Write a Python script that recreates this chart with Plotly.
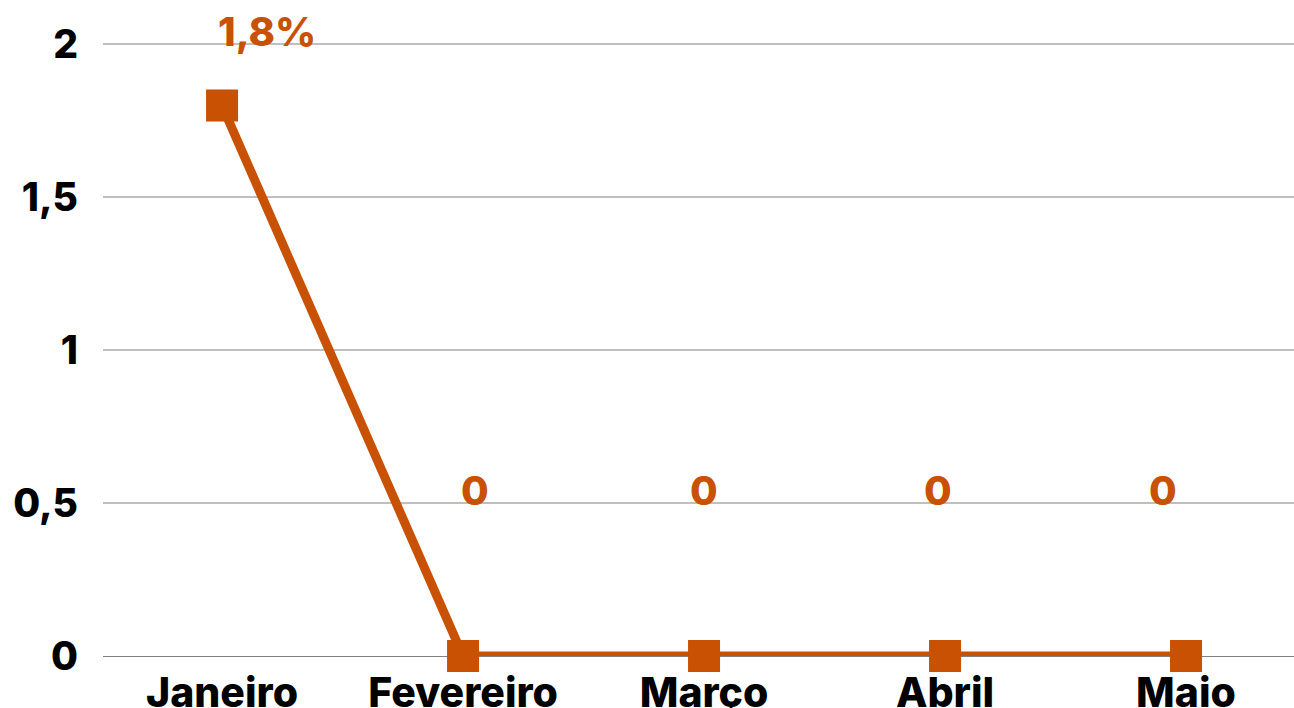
import plotly.graph_objects as go

months = ["Janeiro", "Fevereiro", "Março", "Abril", "Maio"]
values = [1.8, 0, 0, 0, 0]
point_labels = ["1,8%", "0", "0", "0", "0"]
y_ticks = [0, 0.5, 1, 1.5, 2]
y_tick_text = ["0", "0,5", "1", "1,5", "2"]

ORANGE = "#C85103"
FONT = "Inter"

# label offsets (px) as placed in the original
label_shifts = [(45, 74), (12, 166), (0, 166), (-7, 166), (-23, 166)]

fig = go.Figure()
fig.add_trace(
    go.Scatter(
        x=months,
        y=values,
        mode="lines+markers",
        line=dict(color=ORANGE, width=9),
        marker=dict(symbol="square", size=32, color=ORANGE),
        cliponaxis=False,
        showlegend=False,
    )
)

annotations = []
for m, v, txt, (dx, dy) in zip(months, values, point_labels, label_shifts):
    annotations.append(
        dict(
            x=m,
            y=v,
            text=txt,
            showarrow=False,
            xshift=dx,
            yshift=dy,
            font=dict(family=FONT, size=40, color=ORANGE, weight=800),
        )
    )

fig.update_layout(
    width=1294,
    height=708,
    margin=dict(l=103, r=0, t=42, b=52, autoexpand=False),
    paper_bgcolor="white",
    plot_bgcolor="white",
    font=dict(family=FONT, color="black"),
    annotations=annotations,
)
fig.update_xaxes(
    range=[-0.494, 4.448],
    automargin=False,
    showgrid=False,
    showline=False,
    ticks="",
    tickfont=dict(family=FONT, size=41, color="black", weight=800),
    ticklabelstandoff=9,
)
fig.update_yaxes(
    range=[0, 2.008],
    automargin=False,
    tickvals=y_ticks,
    ticktext=y_tick_text,
    showgrid=True,
    gridcolor="#BFBFBF",
    gridwidth=1.5,
    zeroline=True,
    zerolinecolor="#808080",
    zerolinewidth=1,
    showline=False,
    ticks="",
    tickfont=dict(family=FONT, size=39, color="black", weight=800),
    ticklabelstandoff=24,
)

# drop the default page margin so the figure sits at the window's corner
fig.write_html(
    "out.html",
    config={"displayModeBar": False},
    post_script="document.body.style.margin='0';document.body.style.overflow='hidden';",
)
